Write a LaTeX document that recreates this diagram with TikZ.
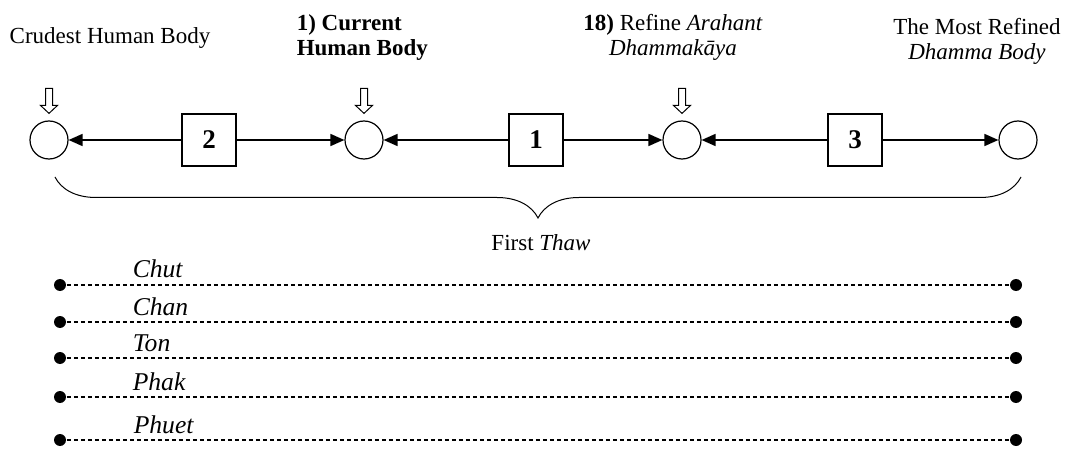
\documentclass[tikz,border=0pt]{standalone}
\usepackage{fontspec}
\setmainfont{Liberation Serif}
\usetikzlibrary{positioning,arrows.meta,decorations.pathreplacing,shapes.geometric}
\newcommand\lbl{\fontsize{11.5pt}{12.5pt}\selectfont}

\begin{document}
\begin{tikzpicture}[x=0.5pt,y=-0.5pt,font=\lbl,line width=0.8pt,
  body/.style={draw, circle, minimum size=19pt, inner sep=0pt, line width=0.6pt},
  stage/.style={draw, minimum width=27pt, minimum height=26pt, font=\fontsize{13.5pt}{14pt}\selectfont\bfseries},
  link/.style={-{Triangle[length=7pt,width=6pt]}},
  level/.style={dash pattern=on 2pt off 1.5pt, line width=0.7pt},
  dot/.style={circle, fill, inner sep=0pt, minimum size=6pt}]
\useasboundingbox (0,0) rectangle (1067,449);
% Bodies and stages
\foreach \n/\x in {c1/49, c2/364, c3/682, c4/1018}
  \node[body] (\n) at (\x,140) {};
\foreach \n/\x/\t in {b2/209/2, b1/536/1, b3/855/3}
  \node[stage] (\n) at (\x,140) {\t};
\foreach \b/\l/\r in {b2/c1/c2, b1/c2/c3, b3/c3/c4} {
  \draw[link] (\b) -- (\l);
  \draw[link] (\b) -- (\r);
}
% Markers
\foreach \n in {c1,c2,c3}
  \draw[line width=0.5pt] ([yshift=3.5pt]\n.north) -- ++(-4.25pt,4pt) -- ++(2.5pt,0pt) -- ++(0pt,8.5pt)
    -- ++(3.5pt,0pt) -- ++(0pt,-8.5pt) -- ++(2.5pt,0pt) -- cycle;
% Labels
\node[anchor=base] (crude) at (110,44) {Crudest Human Body};
\node[anchor=north west, align=left, inner sep=0pt, font=\lbl\bfseries] (current) at (296,14) {1) Current\\Human Body};
\node[anchor=north, align=center, inner sep=0pt] (arahant) at (673,14) {\textbf{18)} Refine \textit{Arahant}\\\textit{Dhammakāya}};
\node[anchor=north, align=center, inner sep=0pt] (refined) at (977,18) {The Most Refined\\\textit{Dhamma Body}};
% Brace
\coordinate (bl) at (55,177);
\coordinate (br) at (1021,177);
\draw[decorate, decoration={brace, mirror, amplitude=20.5pt}, line width=0.5pt] (bl) -- (br);
\node (thaw) at (541,243) {First \textit{Thaw}};
% Levels
\foreach \y/\x/\t [count=\i] in {285/132/Chut, 322/132/Chan, 358/132/Ton, 397/132/Phak, 440/133/Phuet} {
  \node[dot] (l\i) at (60,\y) {};
  \node[dot] (r\i) at (1016,\y) {};
  \draw[level] (l\i) -- (r\i);
  \node[anchor=base west, inner sep=0pt, font=\fontsize{12.8pt}{14pt}\selectfont] (n\i) at (\x,\y-7) {\textit{\t}};
}
\end{tikzpicture}
\end{document}
